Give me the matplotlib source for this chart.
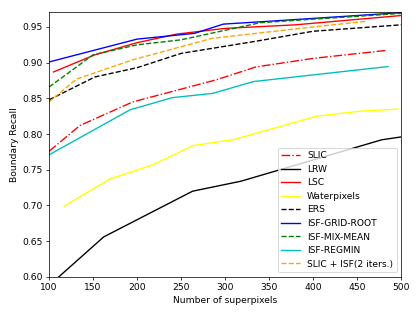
import matplotlib
matplotlib.use("Agg")
import matplotlib.pyplot as plt

slic_x = [100, 135, 195, 290, 335, 400, 482]
slic_y = [0.776, 0.812, 0.845, 0.876, 0.894, 0.906, 0.917]

lrw_x = [100, 162, 263, 318, 478, 500]
lrw_y = [0.588, 0.656, 0.720, 0.734, 0.792, 0.796]

lsc_x = [105, 152, 200, 245, 300, 380, 500]
lsc_y = [0.887, 0.911, 0.928, 0.940, 0.948, 0.953, 0.966]

water_x = [117, 169, 218, 264, 309, 404, 453, 497]
water_y = [0.699, 0.737, 0.757, 0.784, 0.792, 0.825, 0.832, 0.835]

ers_x = [100, 152, 200, 250, 335, 400, 500]
ers_y = [0.848, 0.880, 0.893, 0.913, 0.930, 0.944, 0.953]

grid_x = [100, 200, 265, 298, 350, 500]
grid_y = [0.901, 0.933, 0.941, 0.954, 0.958, 0.970]

mix_x = [100, 150, 200, 250, 340, 500]
mix_y = [0.866, 0.911, 0.925, 0.932, 0.956, 0.969]

regmin_x = [100, 192, 240, 286, 332, 430, 485]
regmin_y = [0.771, 0.834, 0.851, 0.857, 0.8735, 0.887, 0.8945]

slicisf_x = [100, 131, 195, 285, 385, 461]
slicisf_y = [0.845, 0.877, 0.904, 0.934, 0.948, 0.958]

fig, ax = plt.subplots(figsize=(6.4, 4.8), dpi=65.625)
fig.subplots_adjust(left=0.117, right=0.955, top=0.962, bottom=0.121)

ax.plot(slic_x, slic_y, color='red', linestyle='-.', label='SLIC')
ax.plot(lrw_x, lrw_y, color='black', linestyle='-', label='LRW')
ax.plot(lsc_x, lsc_y, color='red', linestyle='-', label='LSC')
ax.plot(water_x, water_y, color='yellow', linestyle='-', label='Waterpixels')
ax.plot(ers_x, ers_y, color='black', linestyle='--', label='ERS')
ax.plot(grid_x, grid_y, color='blue', linestyle='-', label='ISF-GRID-ROOT')
ax.plot(mix_x, mix_y, color='green', linestyle='--', label='ISF-MIX-MEAN')
ax.plot(regmin_x, regmin_y, color='c', linestyle='-', label='ISF-REGMIN')
ax.plot(slicisf_x, slicisf_y, color='orange', linestyle='--', label='SLIC + ISF(2 iters.)')

ax.set_xlim(100, 500)
ax.set_ylim(0.60, 0.971)
ax.set_yticks([0.60, 0.65, 0.70, 0.75, 0.80, 0.85, 0.90, 0.95])
ax.set_xlabel('Number of superpixels')
ax.set_ylabel('Boundary Recall')
ax.legend(loc='lower right')

fig.savefig('out.png', dpi=65.625)
